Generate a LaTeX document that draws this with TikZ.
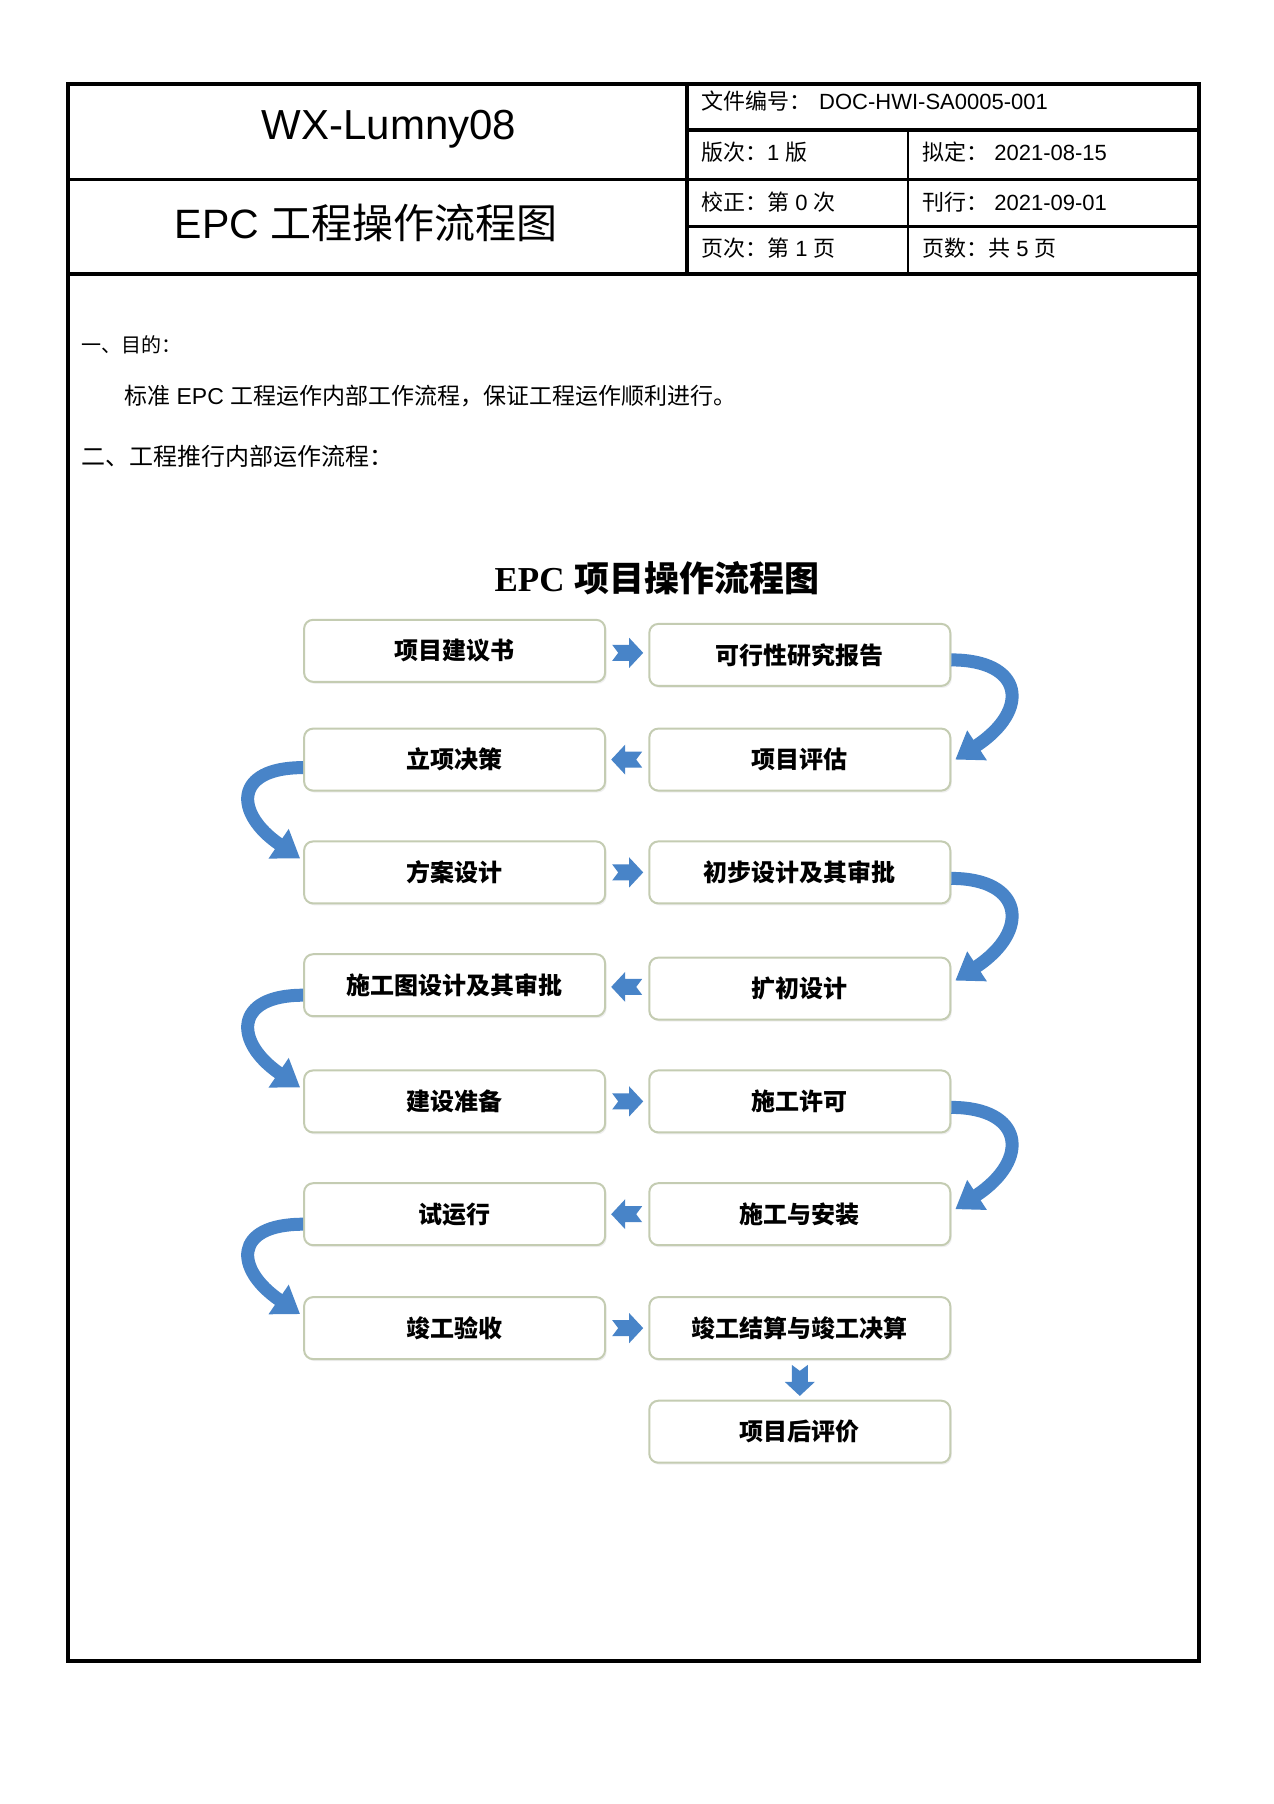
\documentclass[tikz,border=0pt]{standalone}
\usepackage{fontspec}
\setmainfont{Liberation Sans}
\newfontfamily\cjk{Noto Sans CJK SC}
\newfontfamily\serifl{Liberation Serif}
\usetikzlibrary{arrows.meta,calc,shadows}
\definecolor{boxline}{RGB}{196,204,178}
\definecolor{arrowblue}{RGB}{72,132,200}
\tikzset{
  flowbox/.style={draw=boxline, line width=2pt, rounded corners=9pt, minimum width=301pt, minimum height=62pt, fill=white, inner sep=0pt,
    drop shadow={opacity=0.12, shadow xshift=1.5pt, shadow yshift=-2pt},
    font=\fontsize{24}{24}\selectfont\cjk\bfseries},
  curv/.style={draw=arrowblue, line width=13pt, -{Triangle[width=34pt,length=26pt]}},
  hdr/.style={anchor=west, inner sep=0pt, font=\fontsize{22}{22}\selectfont},
  bodytext/.style={anchor=west, inner sep=0pt, font=\fontsize{24}{24}\selectfont},
  frameline/.style={line width=4pt},
  ruleline/.style={line width=3.5pt},
  blockarr/.pic={\fill[arrowblue] (-15,-8) -- (2,-8) -- (2,-15) -- (16,0) -- (2,15) -- (2,8) -- (-15,8) -- (-9,0) -- cycle;}
}
\begin{document}
\begin{tikzpicture}[x=1pt,y=-1pt]
\useasboundingbox (0,0) rectangle (1274,1804);
\fill[white] (0,0) rectangle (1274,1804);

% frame and header table
\draw[frameline] (68,84) rectangle (1199,1661);
\draw[ruleline] (687,84) -- (687,274);
\draw[ruleline] (687,130) -- (1199,130);
\draw[ruleline] (68,179.5) -- (1199,179.5);
\draw[ruleline] (687,226.7) -- (1199,226.7);
\draw[ruleline] (68,274) -- (1199,274);
\draw[line width=1.2pt] (908,130) -- (908,274);

\node[font=\fontsize{42}{42}\selectfont] (wx) at (389,129) {WX-Lumny08};
\node[font=\fontsize{41}{41}\selectfont] (epc) at (366,223) {EPC {\cjk 工程操作流程图}};

\node[hdr] (docno) at (701,101) {{\cjk 文件编号：}\hspace{8pt}DOC-HWI-SA0005-001};
\node[hdr] (ver) at (701,152) {{\cjk 版次：}1 {\cjk 版}};
\node[hdr] (draft) at (922,152) {{\cjk 拟定：} 2021-08-15};
\node[hdr] (rev) at (701,202) {{\cjk 校正：第} 0 {\cjk 次}};
\node[hdr] (pub) at (922,202) {{\cjk 刊行：} 2021-09-01};
\node[hdr] (page) at (701,248) {{\cjk 页次：第} 1 {\cjk 页}};
\node[hdr] (pages) at (922,248) {{\cjk 页数：共} 5 {\cjk 页}};

% body text
\node[bodytext, font=\fontsize{20}{20}\selectfont] (s1) at (81,345) {{\cjk 一、目的：}};
\node[bodytext, font=\fontsize{23}{23}\selectfont] (s1t) at (124,396) {{\cjk 标准} EPC {\cjk 工程运作内部工作流程，保证工程运作顺利进行。}};
\node[bodytext] (s2) at (81,456) {{\cjk 二、工程推行内部运作流程：}};

% flowchart
\node[font=\fontsize{35}{35}\selectfont\bfseries] (ftitle) at (657,578) {{\serifl EPC} {\cjk 项目操作流程图}};

\node[flowbox] (l1) at (454.6,650.8) {项目建议书};
\node[flowbox] (r1) at (799.8,654.9) {可行性研究报告};
\node[flowbox] (l2) at (454.6,759.6) {立项决策};
\node[flowbox] (r2) at (799.8,759.6) {项目评估};
\node[flowbox] (l3) at (454.6,872.4) {方案设计};
\node[flowbox] (r3) at (799.8,872.4) {初步设计及其审批};
\node[flowbox] (l4) at (454.6,985.2) {施工图设计及其审批};
\node[flowbox] (r4) at (799.8,988.6) {扩初设计};
\node[flowbox] (l5) at (454.6,1101.4) {建设准备};
\node[flowbox] (r5) at (799.8,1101.4) {施工许可};
\node[flowbox] (l6) at (454.6,1214.2) {试运行};
\node[flowbox] (r6) at (799.8,1214.2) {施工与安装};
\node[flowbox] (l7) at (454.6,1328.1) {竣工验收};
\node[flowbox] (r7) at (799.8,1328.1) {竣工结算与竣工决算};
\node[flowbox] (r8) at (799.8,1431.7) {项目后评价};

% straight block arrows
\pic at ($(l1.east)!0.5!(r1.west)$) {blockarr};
\pic[rotate=180] at ($(r2.west)!0.5!(l2.east)$) {blockarr};
\pic at ($(l3.east)!0.5!(r3.west)$) {blockarr};
\pic[rotate=180] at ($(r4.west)!0.5!(l4.east)$) {blockarr};
\pic at ($(l5.east)!0.5!(r5.west)$) {blockarr};
\pic[rotate=180] at ($(r6.west)!0.5!(l6.east)$) {blockarr};
\pic at ($(l7.east)!0.5!(r7.west)$) {blockarr};
\pic[rotate=-90] at ($(r7.south)!0.5!(r8.north)$) {blockarr};

% curved arrows
\draw[curv] ($(r1.east)+(0,5)$) .. controls +(72,0) and +(76,-50) .. ($(r2.east)+(4,0)$);
\draw[curv] ($(l2.west)+(0,8)$) .. controls +(-70,0) and +(-66,-45) .. ($(l3.west)+(-3,-14)$);
\draw[curv] ($(r3.east)+(0,6)$) .. controls +(72,0) and +(76,-50) .. ($(r4.east)+(4,-8)$);
\draw[curv] ($(l4.west)+(0,10)$) .. controls +(-70,0) and +(-66,-45) .. ($(l5.west)+(-3,-14)$);
\draw[curv] ($(r5.east)+(0,6)$) .. controls +(72,0) and +(76,-50) .. ($(r6.east)+(4,-5)$);
\draw[curv] ($(l6.west)+(0,10)$) .. controls +(-70,0) and +(-66,-45) .. ($(l7.west)+(-3,-14)$);
\end{tikzpicture}
\end{document}
